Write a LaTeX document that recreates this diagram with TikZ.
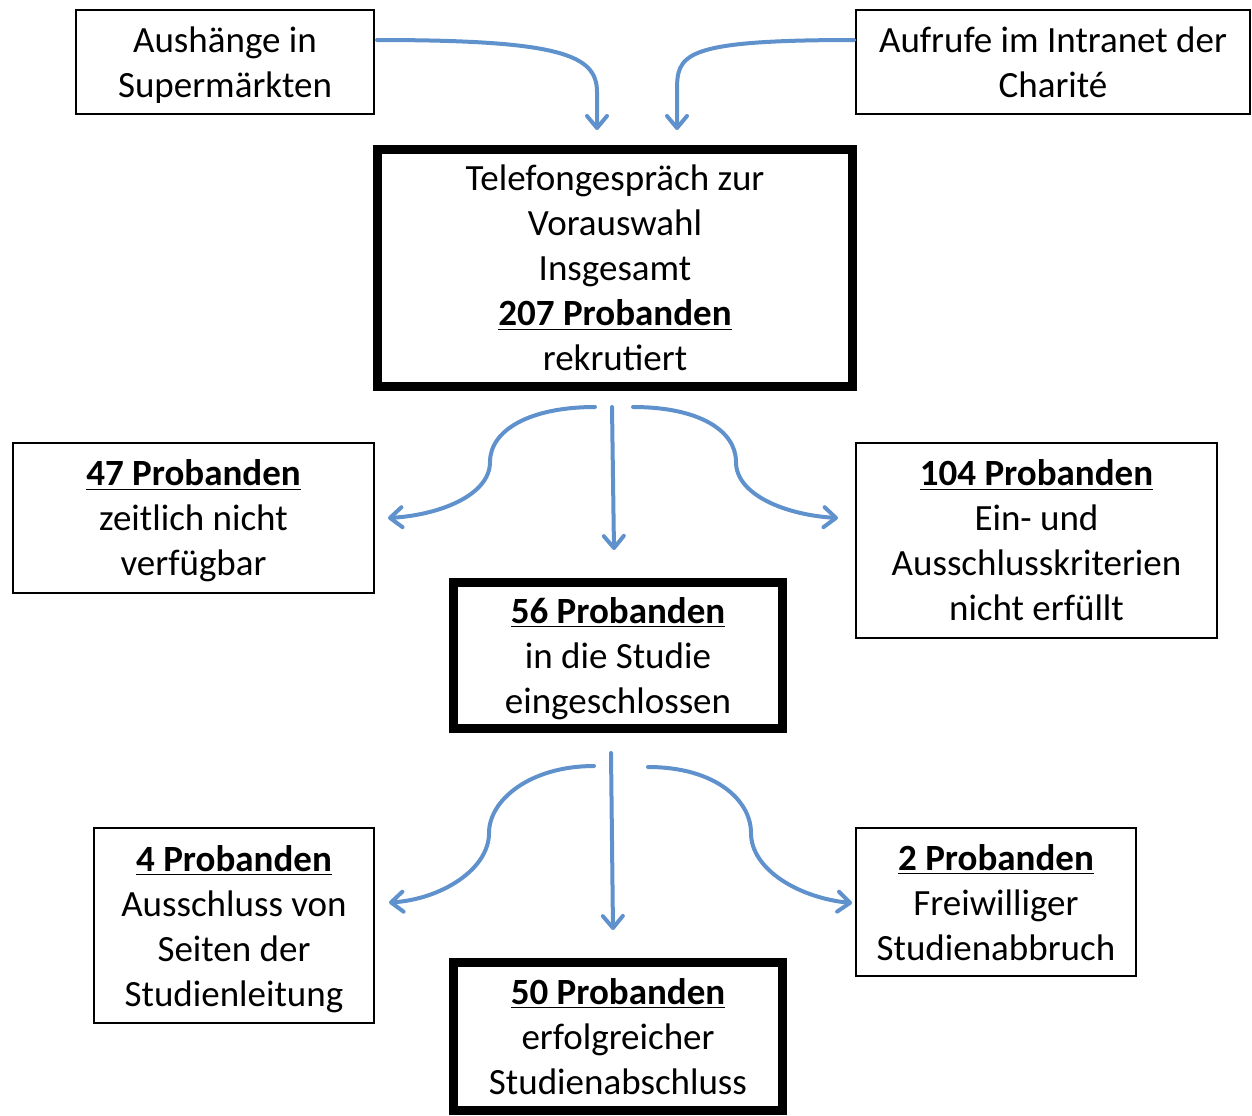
\documentclass[tikz,border=0pt]{standalone}
\usepackage{fontspec}
\setmainfont{Carlito}
\usepackage{xcolor}
\usepackage{tikz}
\usetikzlibrary{arrows.meta, calc}

\definecolor{flowblue}{RGB}{95,145,204}

\begin{document}
\begin{tikzpicture}[
    x=0.5pt, y=-0.5pt,
    box/.style={draw, line width=1pt, align=center, inner sep=0pt, fill=white, text depth=0pt, font=\fontsize{18.5}{22.5}\selectfont},
    mainbox/.style={box, line width=4.5pt},
    arrow/.style={flowblue, line width=2pt, line cap=round, -{Straight Barb[length=6pt, width=10pt, round]}}
]
    \useasboundingbox (0,0) rectangle (1252,1115);

    % Recruitment sources
    \node[box, minimum width=149pt, minimum height=52pt] (aush) at (225,62) {Aushänge in\\Supermärkten};
    \node[box, minimum width=197pt, minimum height=52pt] (aufr) at (1053,62) {Aufrufe im Intranet der\\Charité};

    % Main components
    \node[mainbox, minimum width=237.5pt, minimum height=118.5pt] (tel) at (615,268) {Telefongespräch zur\\Vorauswahl\\Insgesamt\\\underline{\textbf{207 Probanden}}\\rekrutiert};
    \node[box, minimum width=180.5pt, minimum height=75pt] (p47) at (193.5,518) {\underline{\textbf{47 Probanden}}\\zeitlich nicht\\verfügbar};
    \node[box, minimum width=180.5pt, minimum height=97.5pt] (p104) at (1036.5,540.5) {\underline{\textbf{104 Probanden}}\\Ein- und\\Ausschlusskriterien\\nicht erfüllt};
    \node[mainbox, minimum width=164.5pt, minimum height=73pt] (p56) at (618,655.5) {\underline{\textbf{56 Probanden}}\\in die Studie\\eingeschlossen};
    \node[box, minimum width=140pt, minimum height=97.5pt] (p4) at (234,925.5) {\underline{\textbf{4 Probanden}}\\Ausschluss von\\Seiten der\\Studienleitung};
    \node[box, minimum width=140pt, minimum height=74pt] (p2) at (996,902) {\underline{\textbf{2 Probanden}}\\Freiwilliger\\Studienabbruch};
    \node[mainbox, minimum width=164.5pt, minimum height=74pt] (p50) at (618,1036.5) {\underline{\textbf{50 Probanden}}\\erfolgreicher\\Studienabschluss};

    % Arrows into the telephone screening
    \draw[arrow] ($(aush.east)+(2,-22)$) .. controls +(184,0) and +(0,-37) .. ($(tel.north)+(-18,-53)$) -- ($(tel.north)+(-18,-15)$);
    \draw[arrow] ($(aufr.west)+(-1,-22)$) .. controls +(-175,0) and +(0,-37) .. ($(tel.north)+(62,-53)$) -- ($(tel.north)+(62,-15)$);

    % Arrows after screening
    \draw[arrow] ($(tel.south)+(-3,16)$) -- ($(p56.north)+(-4,-28)$);
    \draw[arrow] ($(tel.south)+(-20,16)$) .. controls +(-65,0) and +(0,-32) .. ($(tel.south)+(-125,71)$) .. controls +(0,33) and +(52,-3) .. ($(p47.east)+(13,0)$);
    \draw[arrow] ($(tel.south)+(18,16)$) .. controls +(65,0) and +(0,-32) .. ($(tel.south)+(121,71)$) .. controls +(0,33) and +(-52,-3) .. ($(p104.west)+(-17,-22.5)$);

    % Arrows after inclusion
    \draw[arrow] ($(p56.south)+(-7,20)$) -- ($(p50.north)+(-5,-28)$);
    \draw[arrow] ($(p56.south)+(-24,33)$) .. controls +(-64,0) and +(0,-33) .. ($(p56.south)+(-129,100)$) .. controls +(0,37) and +(51,-3) .. ($(p4.east)+(14,-23)$);
    \draw[arrow] ($(p56.south)+(30,34)$) .. controls +(67,0) and +(0,-33) .. ($(p56.south)+(133,100)$) .. controls +(0,37) and +(-52,-5) .. ($(p2.west)+(-3,1)$);
\end{tikzpicture}
\end{document}
